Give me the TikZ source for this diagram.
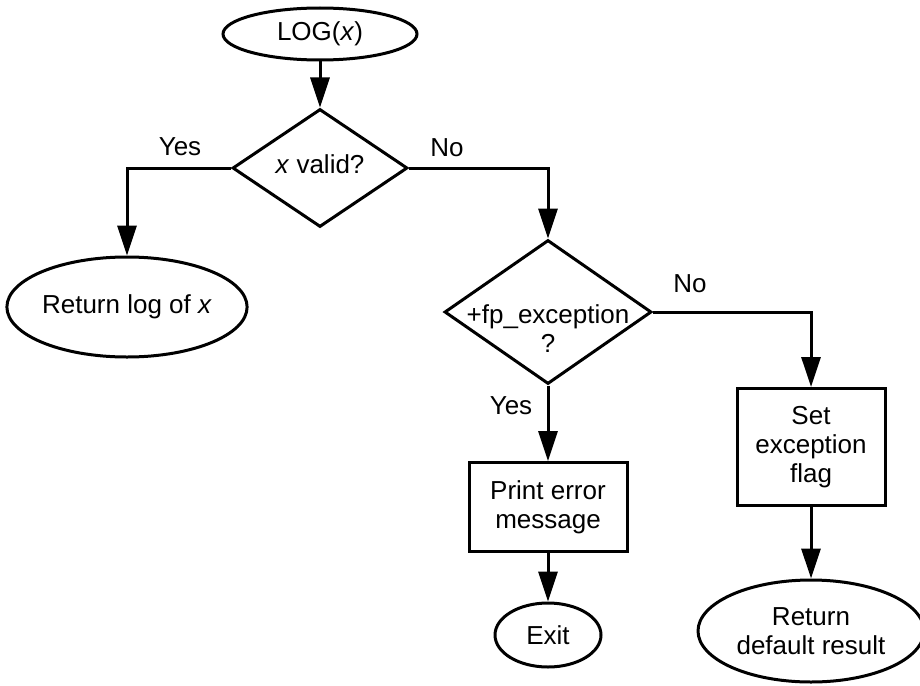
\documentclass[tikz,border=0pt]{standalone}
\usepackage{fontspec}
\setmainfont{Liberation Sans}
\usetikzlibrary{shapes.geometric,arrows.meta}
\begin{document}
\begin{tikzpicture}[x=1pt,y=-1pt,
  line width=3pt,
  every node/.style={font=\fontsize{26}{29}\selectfont},
  term/.style={draw,ellipse,inner sep=0pt,align=center},
  decision/.style={draw,diamond,inner sep=0pt},
  proc/.style={draw,rectangle,inner sep=0pt,align=center},
  txt/.style={inner sep=0pt,align=center},
  arr/.style={-{Triangle[length=30pt,width=19pt]}},
]
\useasboundingbox (0,0) rectangle (920,685);

\node[term, minimum width=194pt, minimum height=52pt] (log) at (320,34) {LOG(\textit{x})};
\node[decision, minimum width=175pt, minimum height=118pt] (valid) at (320,168) {};
\node[txt] (validt) at (320,164) {\textit{x} valid?};
\node[term, minimum width=234pt, minimum height=100pt] (retlog) at (127,307) {Return log of \textit{x}};
\node[decision, minimum width=207pt, minimum height=144pt] (fpx) at (548,312) {};
\node[txt] (fpxt) at (548,329) {+fp\_exception\\?};
\node[proc, minimum width=158pt, minimum height=89pt] (printerr) at (548,507) {Print error\\message};
\node[term, minimum width=106pt, minimum height=64pt] (exit) at (548,635) {Exit};
\node[proc, minimum width=148pt, minimum height=117pt] (setflag) at (811,447) {Set\\exception\\flag};
\node[term, minimum width=226pt, minimum height=102pt] (retdef) at (811,631) {Return\\default result};

\draw[arr] (log) -- (valid);
\draw[arr] (valid.west) -| (retlog.north);
\draw[arr] (valid.east) -| (fpx.north);
\draw[arr] (fpx.east) -| (setflag.north);
\draw[arr] (fpx) -- (printerr);
\draw[arr] (printerr) -- (exit);
\draw[arr] (setflag) -- (retdef);

\node[txt] (yes1) at (180,147) {Yes};
\node[txt] (no1) at (447,148) {No};
\node[txt] (no2) at (690,284) {No};
\node[txt] (yes2) at (511,406) {Yes};
\end{tikzpicture}
\end{document}
